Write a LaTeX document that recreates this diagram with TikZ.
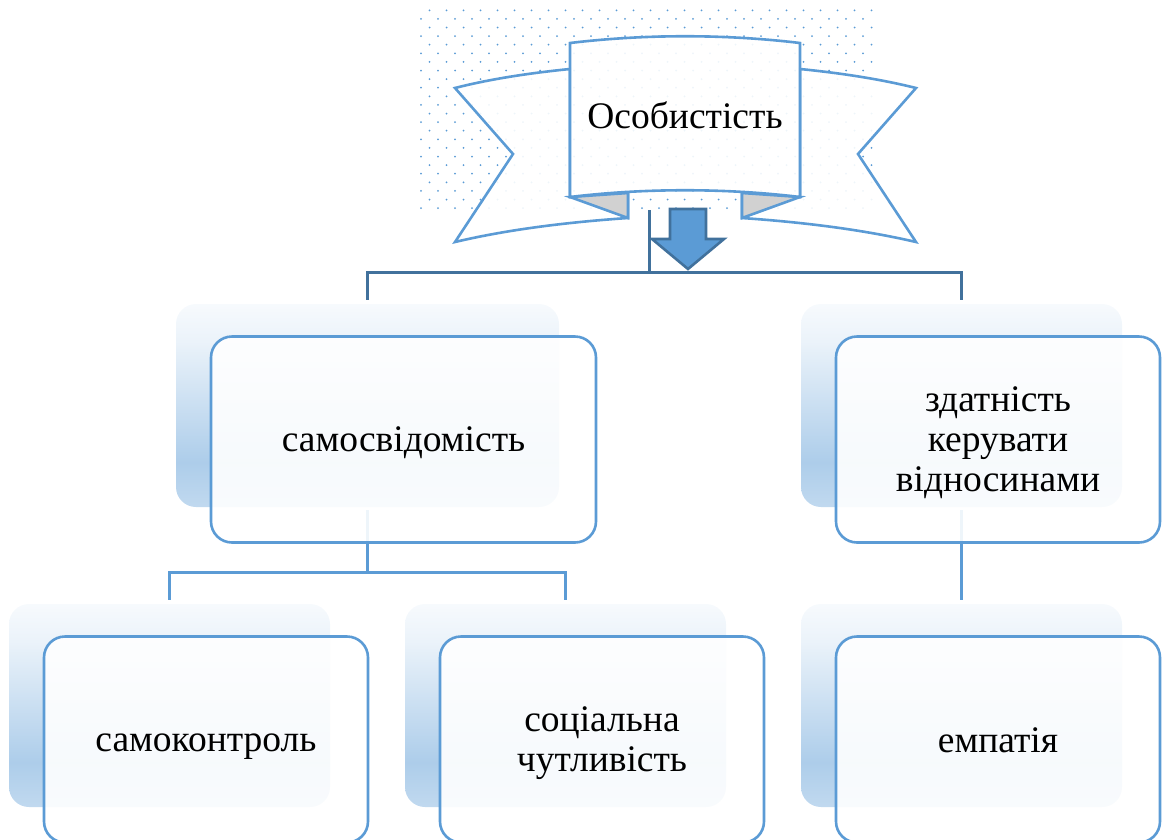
\documentclass[tikz,border=0pt]{standalone}
\usepackage{fontspec}
\setmainfont{Liberation Serif}
\definecolor{ln}{HTML}{5B9BD5}
\definecolor{ldark}{HTML}{41719C}
\definecolor{conn}{HTML}{5088B8}
\newcommand{\lineprop}{\rule[-5.5pt]{0pt}{37pt}}
\pgfdeclareverticalshading{softblue}{100bp}{color(0bp)=(white!60!ln!60!white); color(25bp)=(ln!38!white); color(36bp)=(ln!50!white); color(66bp)=(ln!12!white); color(75bp)=(ln!5!white); color(100bp)=(ln!5!white)}
\tikzset{
  x=1pt,y=-1pt,
  shadowbox/.style={draw=none,shading=softblue,rounded corners=20pt,inner sep=0pt,minimum height=203pt},
  frontbox/.style={draw=ln,line width=2.6pt,fill=white,fill opacity=.9,text opacity=1,rounded corners=21pt,inner sep=0pt,minimum height=206pt,align=center,font=\fontsize{37.5}{38}\selectfont},
  link/.style={draw=conn,line width=3pt},
  ribbon/.style={draw=ln,line width=2.6pt,line join=miter,fill=white,fill opacity=.9},
  fold/.style={draw=ln,line width=2.6pt,fill=black!18},
  downarrow/.style={draw=ldark,line width=2.6pt,fill=ln},
}
\begin{document}
\begin{tikzpicture}
\useasboundingbox (0,0) rectangle (1165,839);
\clip (0,0) rectangle (1165,839);
% dotted backdrop
\foreach \i in {0,...,23}{
  \pgfmathsetmacro{\yy}{10.3+8.6*\i}
  \pgfmathsetmacro{\xs}{isodd(\i)?421:429.5}
  \foreach \j in {0,...,26}{
    \pgfmathsetmacro{\xx}{\xs+17*\j}
    \fill[ln] (\xx,\yy) circle (1pt);
  }
}
% ribbon
\draw[ribbon] (570,69) .. controls (530,73) and (490,79) .. (455,88) -- (513,154) -- (455,242) .. controls (510,229) and (570,222) .. (628,218) -- (628,193) -- (570,197) -- cycle;
\draw[ribbon] (800,69) .. controls (840,73) and (880,79) .. (916,88) -- (858,154) -- (916,242) .. controls (860,229) and (800,222) .. (742,218) -- (742,193) -- (800,197) -- cycle;
\draw[fold] (570,197) -- (628,218) -- (628,193) -- cycle;
\draw[fold] (800,197) -- (742,218) -- (742,193) -- cycle;
\draw[ribbon] (570,43) .. controls (645,34) and (725,34) .. (800,43) -- (800,197) .. controls (725,188) and (645,188) .. (570,197) -- cycle;
\node[font=\fontsize{37.5}{38}\selectfont,inner sep=0pt] (title) at (685,115.5) {\lineprop Особистість};
% shadow plates
\node[shadowbox,minimum width=383pt] (s1) at (367.5,405.5) {};
\node[shadowbox,minimum width=321pt] (s2) at (961.5,405.5) {};
\node[shadowbox,minimum width=321pt] (s3) at (169.5,705.5) {};
\node[shadowbox,minimum width=321pt] (s4) at (565.5,705.5) {};
\node[shadowbox,minimum width=321pt] (s5) at (961.5,705.5) {};
% connectors
\coordinate (rib) at (649,210);
\coordinate (bus) at (649,272);
\draw[link,draw=ldark] (rib) -- (bus);
\draw[link,draw=ldark,shorten >=4pt] (bus) -| (s1.north);
\draw[link,draw=ldark,shorten >=4pt] (bus) -| (s2.north);
\coordinate (j1) at (367.5,572);
\draw[link,draw=ln,shorten <=3pt] (s1.south) -- (j1);
\draw[link,draw=ln,shorten >=4pt] (j1) -| (s3.north);
\draw[link,draw=ln,shorten >=4pt] (j1) -| (s4.north);
\draw[link,draw=ln,shorten <=3pt,shorten >=4pt] (s2.south) -- (s5.north);
% arrow
\draw[downarrow] (670,209) -- (706,209) -- (706,239) -- (724,239) -- (688,269) -- (652,239) -- (670,239) -- cycle;
% front boxes
\node[frontbox,minimum width=385pt] (b1) at (403.5,439.5) {\lineprop самосвідомість};
\node[frontbox,minimum width=324pt] (b2) at (998,439.5) {\lineprop здатність\\\lineprop керувати\\\lineprop відносинами};
\node[frontbox,minimum width=324pt] (b3) at (206,739.5) {\lineprop самоконтроль};
\node[frontbox,minimum width=324pt] (b4) at (602,739.5) {\lineprop соціальна\\\lineprop чутливість};
\node[frontbox,minimum width=324pt] (b5) at (998,739.5) {\lineprop емпатія};
\end{tikzpicture}
\end{document}
